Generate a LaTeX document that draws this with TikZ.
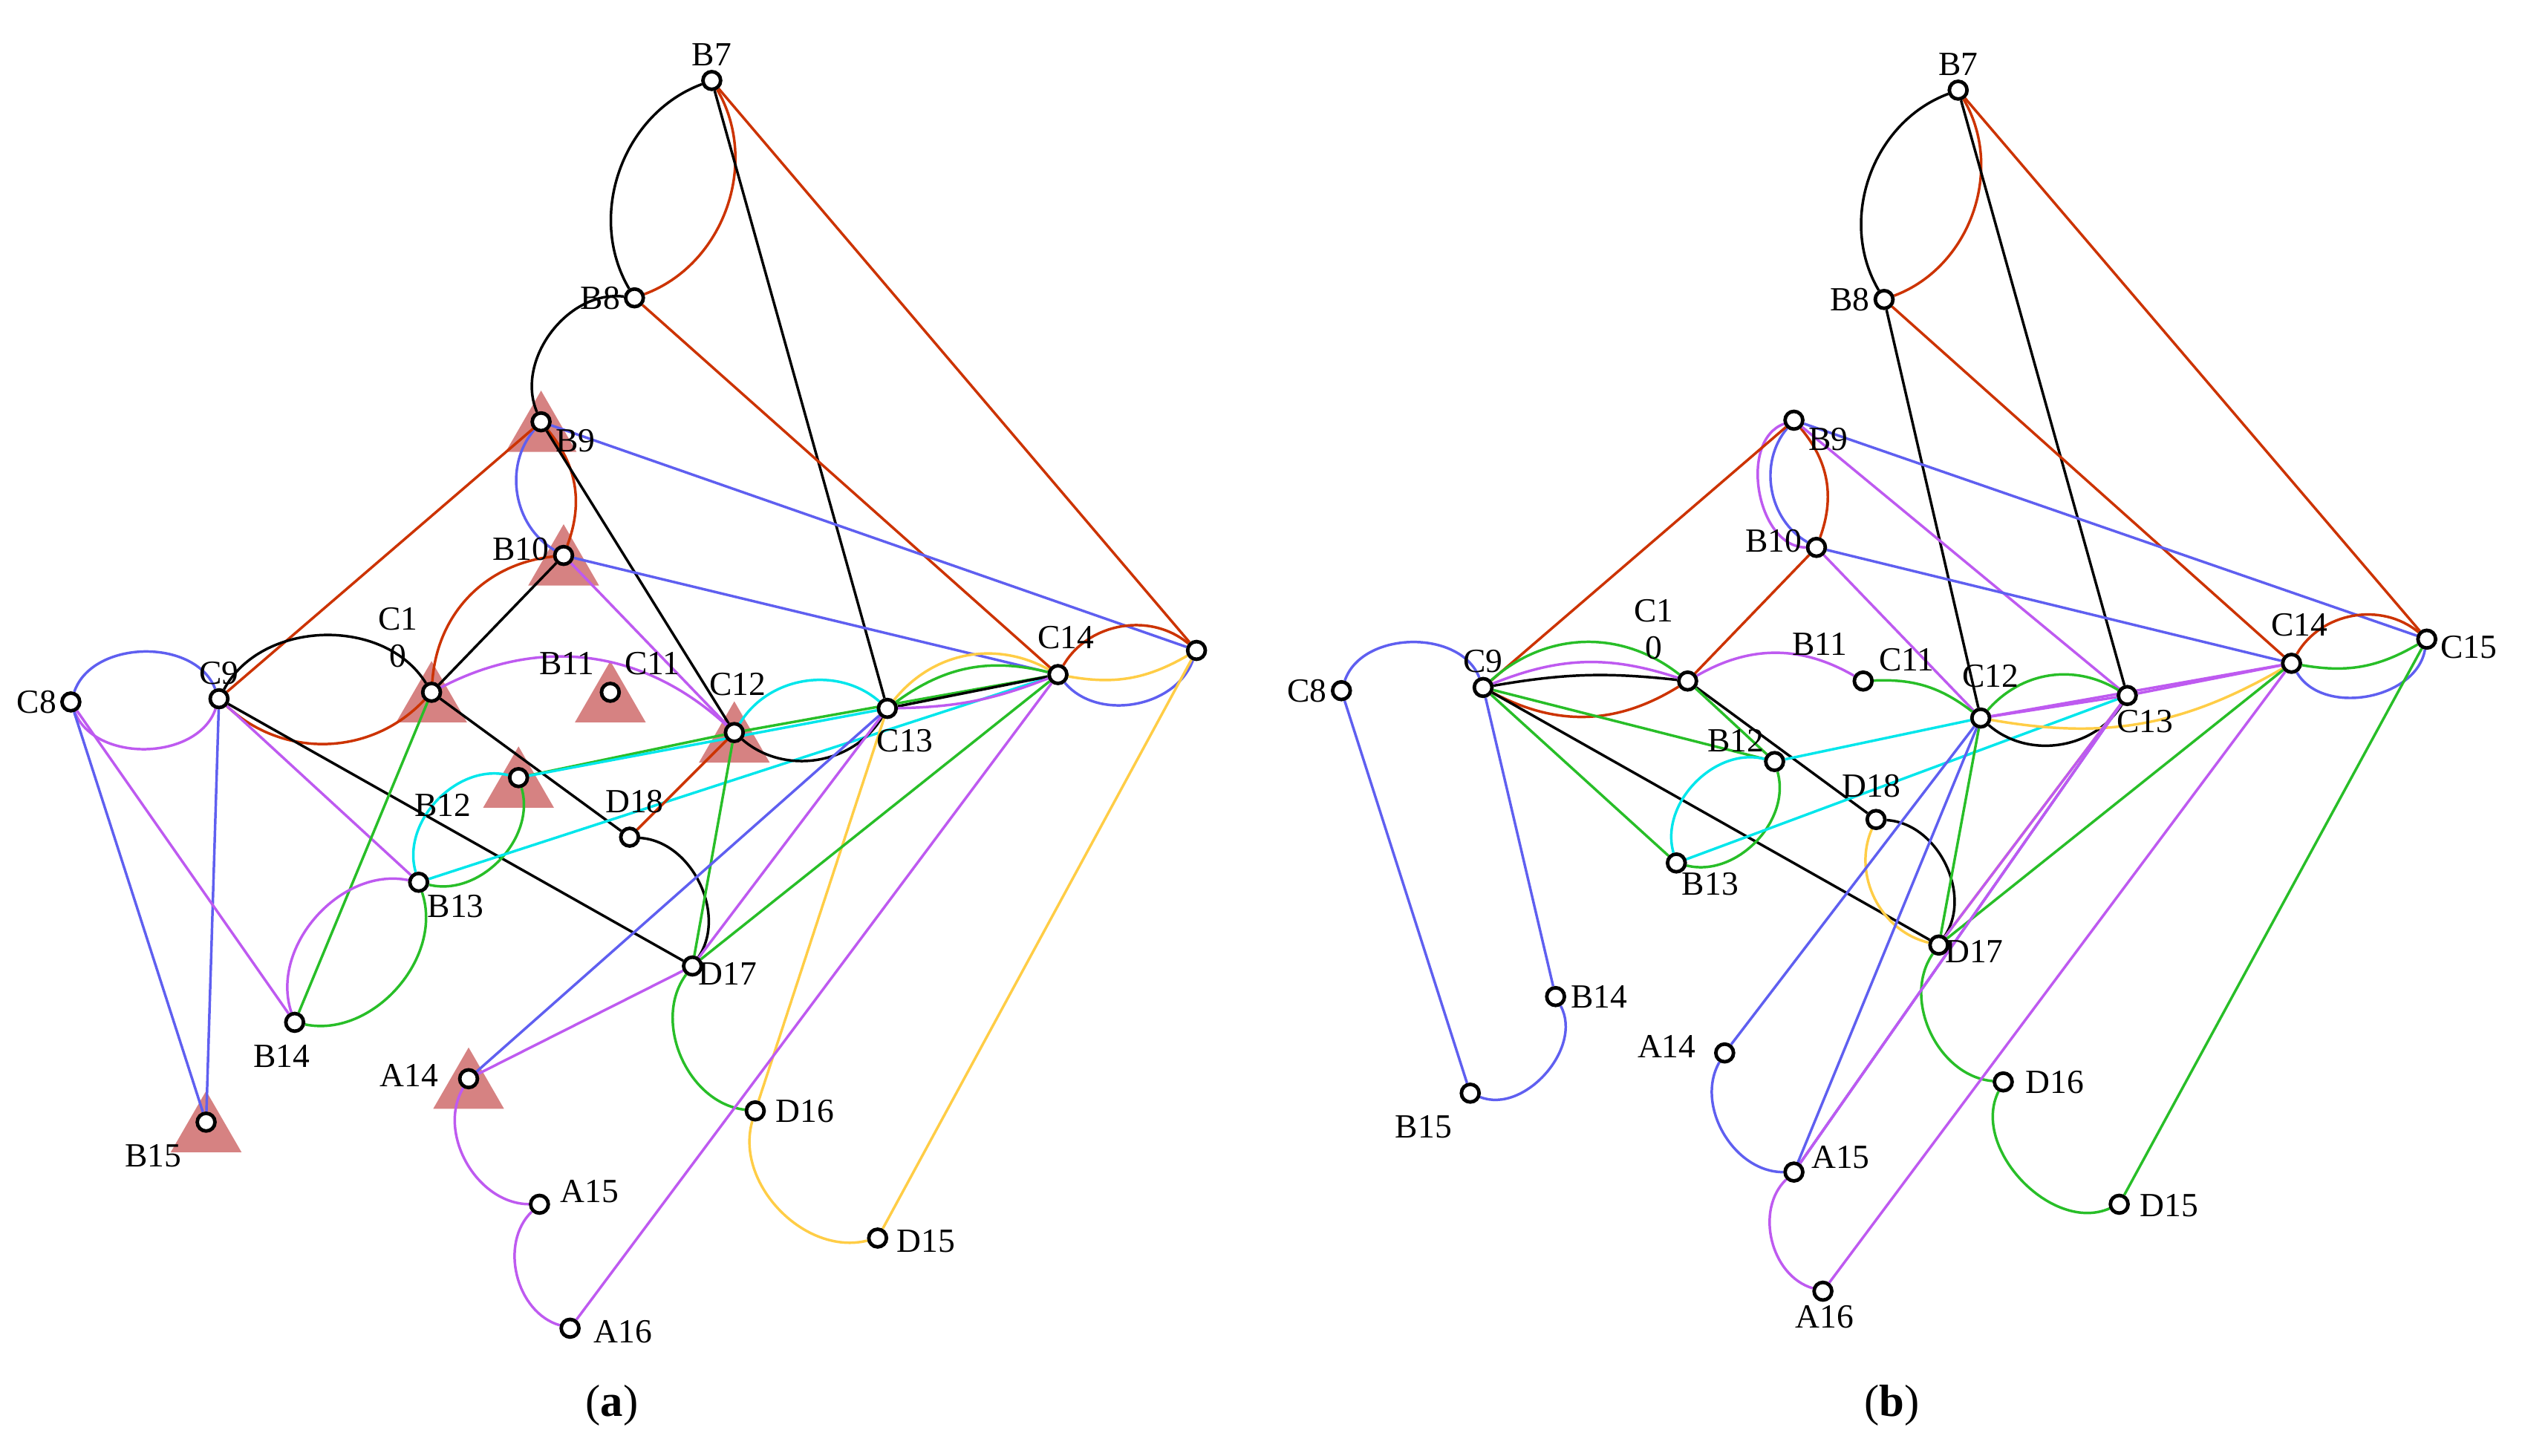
\documentclass[tikz,border=0pt]{standalone}
\usepackage{fontspec}
\setmainfont{Liberation Serif}
\usetikzlibrary{shapes.geometric}
\pgfdeclarelayer{bg}\pgfdeclarelayer{tri}
\pgfsetlayers{tri,bg,main}
\definecolor{cR}{RGB}{204,51,0}
\definecolor{cB}{RGB}{95,95,240}
\definecolor{cV}{RGB}{190,90,240}
\definecolor{cG}{RGB}{40,190,40}
\definecolor{cC}{RGB}{0,230,235}
\definecolor{cY}{RGB}{255,205,70}
\definecolor{cT}{RGB}{214,130,130}
\begin{document}
\begin{tikzpicture}[x=0.5pt,y=-0.5pt,
 v/.style={circle,draw,line width=1.1pt,fill=white,inner sep=0pt,minimum size=5.5pt},
 lb/.style={font=\fontsize{10.5}{11.5}\selectfont,inner sep=1pt},
 e/.style={line width=0.8pt},
 tri/.style={isosceles triangle,shape border rotate=90,isosceles triangle apex angle=60,fill=cT,inner sep=0pt,minimum width=22pt,minimum height=19pt,yshift=-3pt}]
\useasboundingbox (0,0) rectangle (1568,904);
% ---------- panel a ----------
\foreach \n/\x/\y in {aB7/442/50,aB8/394/185,aB9/336/262,aB10/350/345,aC1/268/430,aC9/136/434,aC8/44/436,aC11/379/430,aC12/456/455,aC13/551/440,aC14/657/419,aR/743/404,aB12/322/483,aD18/391/520,aB13/260/548,aD17/430/600,aB14/183/635,aB15/128/697,aA14/291/670,aA15/335/748,aA16/354/825,aD16/469/690,aD15/545/769}
 \node[v] (\n) at (\x,\y) {};
\begin{pgfonlayer}{tri}
\foreach \n in {aB9,aB10,aC1,aC11,aC12,aB12,aA14,aB15} \node[tri] at (\n) {};
\end{pgfonlayer}
\begin{pgfonlayer}{bg}
\draw[e] (aB7) to[bend right=50] (aB8);
\draw[e,cR] (aB7) to[bend left=50] (aB8);
\draw[e] (aB8) to[bend right=60] (aB9);
\draw[e] (aB7)--(aC13);
\draw[e,cR] (aB7)--(aR);
\draw[e,cR] (aB8)--(aC14);
\draw[e,cR] (aB9) to[bend left=30] (aB10);
\draw[e,cB] (aB9) to[bend right=50] (aB10);
\draw[e] (aB9)--(aC12);
\draw[e,cR] (aB9)--(aC9);
\draw[e,cB] (aB9)--(aR);
\draw[e,cB] (aB10)--(aC14);
\draw[e] (aB10)--(aC1);
\draw[e,cR] (aC1) to[bend left=40] (aB10);
\draw[e,cV] (aB10)--(aC12);
\draw[e,cB] (aC8) to[bend left=70] (aC9);
\draw[e,cV] (aC8) to[bend right=70] (aC9);
\draw[e] (aC9) to[bend left=60] (aC1);
\draw[e,cR] (aC9) to[bend right=45] (aC1);
\draw[e] (aC9)--(aD17);
\draw[e,cV] (aC9)--(aB13);
\draw[e,cB] (aC9)--(aB15);
\draw[e,cB] (aC8)--(aB15);
\draw[e,cV] (aC8)--(aB14);
\draw[e,cV] (aC1) to[bend left=35] (aC12);
\draw[e,cG] (aC1)--(aB14);
\draw[e] (aC1)--(aD18);
\draw[e,cG] (aB12) to[bend left=60] (aB13);
\draw[e,cG] (aB12)--(aC12);
\draw[e,cC] (aB12)--(aC13);
\draw[e,cC] (aC12) to[bend left=50] (aC13);
\draw[e,cC] (aB13) to[bend left=60] (aB12);
\draw[e,cC] (aB13)--(aC14);
\draw[e,cV] (aB13) to[bend right=60] (aB14);
\draw[e,cG] (aB13) to[bend left=60] (aB14);
\draw[e] (aD18) to[bend left=60] (aD17);
\draw[e,cR] (aD18)--(aC12);
\draw[e,cG] (aC12)--(aD17);
\draw[e] (aC12) to[bend right=50] (aC13);
\draw[e,cG] (aC12)--(aC14);
\draw[e] (aC13)--(aC14);
\draw[e,cG] (aC13) to[bend left=25] (aC14);
\draw[e,cV] (aC13) to[bend right=10] (aC14);
\draw[e,cR] (aC14) to[bend left=50] (aR);
\draw[e,cB] (aC14) to[bend right=60] (aR);
\draw[e,cY] (aC13) to[bend left=40] (aC14);
\draw[e,cY] (aC14) to[bend right=20] (aR);
\draw[e,cY] (aC13)--(aD16);
\draw[e,cY] (aD16) to[bend right=60] (aD15);
\draw[e,cY] (aR)--(aD15);
\draw[e,cG] (aD17) to[bend right=60] (aD16);
\draw[e,cG] (aD17)--(aC14);
\draw[e,cV] (aD17)--(aA14);
\draw[e,cV] (aD17)--(aC13);
\draw[e,cB] (aA14)--(aC13);
\draw[e,cV] (aA14) to[bend right=60] (aA15);
\draw[e,cV] (aA15) to[bend right=60] (aA16);
\draw[e,cV] (aA16)--(aC14);
\end{pgfonlayer}
\node[lb,above] at (aB7.north) {B7};
\node[lb,left] at (aB8.west) {B8};
\node[lb,right] at ([yshift=-6pt]aB9.east) {B9};
\node[lb,left] at ([yshift=2pt]aB10.west) {B10};
\node[lb,align=center] at (247,396) {C1\\0};
\node[lb,above] at (aC9.north) {C9};
\node[lb,left] at (aC8.west) {C8};
\node[lb] at (352,412) {B11};
\node[lb] at (405,412) {C11};
\node[lb] at (458,425) {C12};
\node[lb] at (562,460) {C13};
\node[lb] at (662,396) {C14};
\node[lb] at (275,500) {B12};
\node[lb] at (394,498) {D18};
\node[lb] at (283,563) {B13};
\node[lb] at (452,605) {D17};
\node[lb] at (175,656) {B14};
\node[lb] at (95,718) {B15};
\node[lb] at (254,668) {A14};
\node[lb] at (366,740) {A15};
\node[lb] at (387,827) {A16};
\node[lb] at (500,690) {D16};
\node[lb] at (575,771) {D15};
\node[font=\fontsize{14}{16}\selectfont] at (380,873) {(\textbf{a})};
% ---------- panel b ----------
\foreach \n/\x/\y in {bB7/1216/56,bB8/1170/186,bB9/1114/261,bB10/1128/340,bC9/921/427,bC8/833/429,bC1/1048/423,bC11/1157/423,bC12/1230/446,bC13/1321/432,bC14/1423/412,bC15/1507/397,bB12/1102/473,bD18/1165/509,bB13/1041/536,bD17/1204/587,bB14/966/619,bB15/913/679,bA14/1071/654,bA15/1114/728,bA16/1132/802,bD16/1244/672,bD15/1316/748}
 \node[v] (\n) at (\x,\y) {};
\begin{pgfonlayer}{bg}
\draw[e] (bB7) to[bend right=50] (bB8);
\draw[e,cR] (bB7) to[bend left=50] (bB8);
\draw[e] (bB7)--(bC13);
\draw[e,cR] (bB7)--(bC15);
\draw[e] (bB8)--(bC12);
\draw[e,cR] (bB8)--(bC14);
\draw[e,cR] (bB9) to[bend left=30] (bB10);
\draw[e,cB] (bB9) to[bend right=50] (bB10);
\draw[e,cV] (bB9) to[bend right=80] (bB10);
\draw[e,cR] (bB9)--(bC9);
\draw[e,cB] (bB9)--(bC15);
\draw[e,cV] (bB9)--(bC13);
\draw[e,cB] (bB10)--(bC14);
\draw[e,cR] (bB10)--(bC1);
\draw[e,cV] (bB10)--(bC12);
\draw[e,cB] (bC8) to[bend left=70] (bC9);
\draw[e,cB] (bC8)--(bB15);
\draw[e,cB] (bB15) to[bend right=70] (bB14);
\draw[e,cB] (bB14)--(bC9);
\draw[e] (bC9) to[bend left=8] (bC1);
\draw[e,cR] (bC9) to[bend right=30] (bC1);
\draw[e,cG] (bC9) to[bend left=40] (bC1);
\draw[e,cV] (bC9) to[bend left=20] (bC1);
\draw[e] (bC9)--(bD17);
\draw[e,cG] (bC9)--(bB13);
\draw[e,cG] (bC9)--(bB12);
\draw[e] (bC1)--(bD18);
\draw[e] (bD18) to[bend left=60] (bD17);
\draw[e,cY] (bD18) to[bend right=50] (bD17);
\draw[e,cV] (bC1) to[bend left=30] (bC11);
\draw[e,cG] (bC11) to[bend left=20] (bC12);
\draw[e,cG] (bC1)--(bB12);
\draw[e,cG] (bB12) to[bend left=60] (bB13);
\draw[e,cC] (bB13) to[bend left=60] (bB12);
\draw[e,cC] (bB12)--(bC12);
\draw[e,cC] (bB13)--(bC13);
\draw[e] (bC12) to[bend right=50] (bC13);
\draw[e,cG] (bC12) to[bend left=40] (bC13);
\draw[e,cV] (bC12)--(bC13);
\draw[e,cV] (bC12)--(bC14);
\draw[e,cV] (bC13)--(bC14);
\draw[e,cY] (bC12) to[bend right=20] (bC14);
\draw[e,cR] (bC14) to[bend left=50] (bC15);
\draw[e,cG] (bC14) to[bend right=20] (bC15);
\draw[e,cB] (bC14) to[bend right=70] (bC15);
\draw[e,cY] (bC13)--(bD17);
\draw[e,cG] (bD17)--(bC14);
\draw[e,cG] (bD17)--(bC12);
\draw[e,cV] (bD17)--(bC13);
\draw[e,cG] (bD17) to[bend right=60] (bD16);
\draw[e,cG] (bD16) to[bend right=70] (bD15);
\draw[e,cG] (bD15)--(bC15);
\draw[e,cB] (bA14) to[bend right=60] (bA15);
\draw[e,cB] (bA15)--(bC12);
\draw[e,cB] (bA15)--(bC13);
\draw[e,cB] (bA14)--(bC12);
\draw[e,cV] (bA15) to[bend right=60] (bA16);
\draw[e,cV] (bA15)--(bC13);
\draw[e,cV] (bA16)--(bC14);
\end{pgfonlayer}
\node[lb,above] at (bB7.north) {B7};
\node[lb,left] at (bB8.west) {B8};
\node[lb,right] at ([yshift=-6pt]bB9.east) {B9};
\node[lb,left] at ([yshift=2pt]bB10.west) {B10};
\node[lb,align=center] at (1027,391) {C1\\0};
\node[lb,above] at (bC9.north) {C9};
\node[lb,left] at (bC8.west) {C8};
\node[lb] at (1130,400) {B11};
\node[lb] at (1184,410) {C11};
\node[lb] at (1236,420) {C12};
\node[lb] at (1332,448) {C13};
\node[lb] at (1428,388) {C14};
\node[lb] at (1533,402) {C15};
\node[lb] at (1078,460) {B12};
\node[lb] at (1162,488) {D18};
\node[lb] at (1062,549) {B13};
\node[lb] at (1226,591) {D17};
\node[lb] at (993,619) {B14};
\node[lb] at (884,700) {B15};
\node[lb] at (1035,650) {A14};
\node[lb] at (1143,719) {A15};
\node[lb] at (1133,818) {A16};
\node[lb] at (1276,672) {D16};
\node[lb] at (1347,749) {D15};
\node[font=\fontsize{14}{16}\selectfont] at (1175,873) {(\textbf{b})};
\end{tikzpicture}
\end{document}
